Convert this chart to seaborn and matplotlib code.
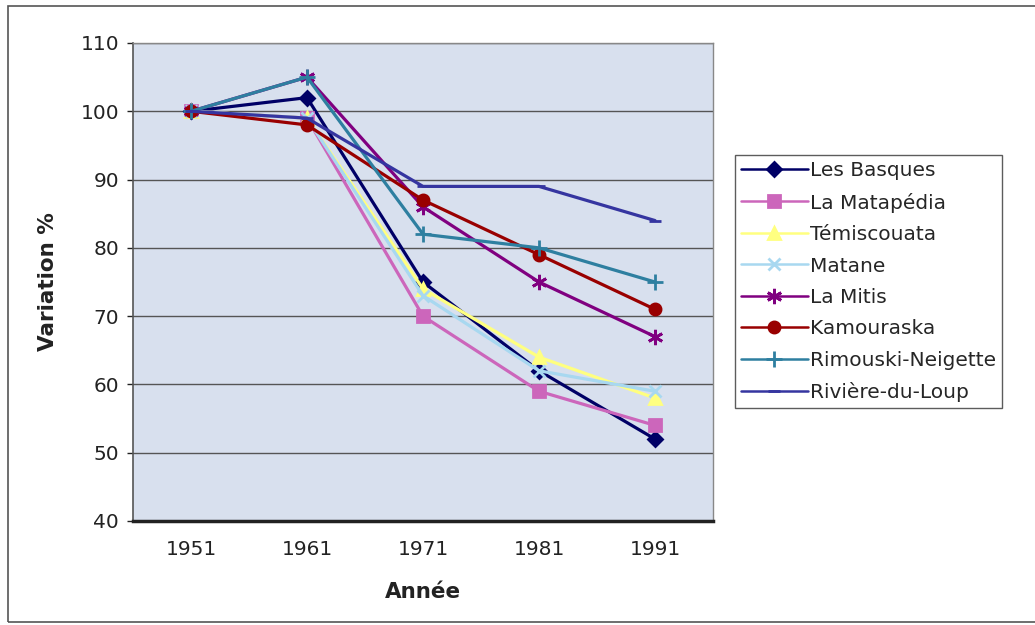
import numpy as np
import pandas as pd
import matplotlib
matplotlib.use('Agg')
import matplotlib.pyplot as plt
import seaborn as sns
from matplotlib.patches import Rectangle

# Data
years = ['1951', '1961', '1971', '1981', '1991']
les_basques = [100, 102, 75, 62, 52]
la_matapedia = [100, 99, 70, 59, 54]
temiscouata = [100, 99, 74, 64, 58]
matane = [100, 99, 73, 62, 59]
la_mitis = [100, 105, 86, 75, 67]
kamouraska = [100, 98, 87, 79, 71]
rimouski = [100, 105, 82, 80, 75]
riviere_du_loup = [100, 99, 89, 89, 84]

series = [
    ('Les Basques', les_basques, '#000066', 'D', 7),
    ('La Matapédia', la_matapedia, '#CC66BB', 's', 8),
    ('Témiscouata', temiscouata, '#FFFF80', '^', 9),
    ('Matane', matane, '#A8D8F0', 'x', 8),
    ('La Mitis', la_mitis, '#800080', (6, 2, 0), 11),
    ('Kamouraska', kamouraska, '#990000', 'o', 8),
    ('Rimouski-Neigette', rimouski, '#2E7FA0', '+', 11),
    ('Rivière-du-Loup', riviere_du_loup, '#3535A0', '_', 9),
]

sns.set_style('white')
plt.rcParams['font.family'] = ['DejaVu Sans']

fig = plt.figure(figsize=(10.35, 6.25), dpi=100)
ax = fig.add_axes([0.1285, 0.1664, 0.5604, 0.7648])
ax.set_facecolor('#D8E0EE')

x = np.arange(len(years))
for name, vals, color, marker, ms in series:
    df = pd.DataFrame({'x': x, 'y': vals})
    sns.lineplot(data=df, x='x', y='y', ax=ax, color=color, marker=marker,
                 markersize=ms, linewidth=2.3, label=name,
                 markeredgecolor=color, markeredgewidth=2)

ax.set_xlim(-0.5, 4.5)
ax.set_ylim(40, 110)
ax.set_yticks(range(40, 111, 10))
ax.set_xticks(x)
ax.set_xticklabels(years)
ax.set_xticks(np.arange(-0.5, 5, 1), minor=True)
ax.tick_params(axis='x', which='major', length=0, pad=14, labelsize=14.5, colors='#222222')
ax.tick_params(axis='x', which='minor', length=6, width=1, direction='out', color='#444444')
ax.tick_params(axis='y', length=4, width=1, direction='out', labelsize=14.5, pad=6,
               left=True, colors='#222222')
ax.yaxis.grid(True, color='#555555', linewidth=1)
ax.set_axisbelow(True)
for s in ['top', 'right']:
    ax.spines[s].set_color('#888888')
    ax.spines[s].set_linewidth(1)
ax.spines['left'].set_color('#555555')
ax.spines['left'].set_linewidth(1.2)
ax.spines['bottom'].set_color('#222222')
ax.spines['bottom'].set_linewidth(2.5)

ax.set_xlabel('Année', fontsize=15.5, fontweight='bold', labelpad=16, color='#222222')
ax.set_ylabel('Variation %', fontsize=15.5, fontweight='bold', labelpad=16, color='#222222')

leg = ax.legend(loc='upper left', bbox_to_anchor=(735 / 1035, 1 - 155 / 625),
                bbox_transform=fig.transFigure, frameon=True, fancybox=False,
                fontsize=14.5, handlelength=3.3, handletextpad=0.1,
                labelspacing=0.62, borderpad=0.3, borderaxespad=0)
leg.get_frame().set_edgecolor('#333333')
leg.get_frame().set_linewidth(1)
for h in leg.get_lines():
    h.set_linewidth(1.8)

fig.patches.append(Rectangle((8 / 1035, 3 / 625), 1, 1 - 9 / 625,
                             transform=fig.transFigure, fill=False,
                             edgecolor='#555555', linewidth=1.2))

fig.savefig('out.png', dpi=100)
